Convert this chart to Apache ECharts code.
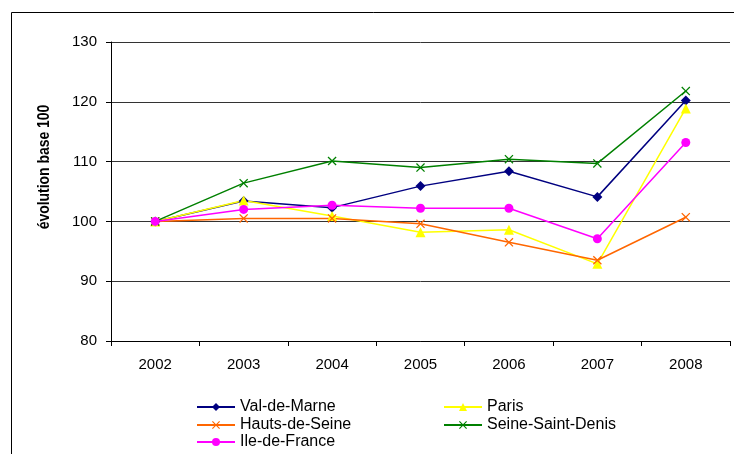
<!DOCTYPE html>
<html>
<head>
<meta charset="utf-8">
<script src="https://cdn.jsdelivr.net/npm/echarts@6/dist/echarts.min.js"></script>
<style>html,body{margin:0;padding:0;background:#fff}#c{width:734px;height:454px}</style>
</head>
<body>
<div id="c"></div>
<script>
var years = ['2002','2003','2004','2005','2006','2007','2008'];
var valDeMarne = [100, 103.4, 102.3, 105.9, 108.4, 104.1, 120.2];
var paris = [100, 103.5, 100.9, 98.2, 98.6, 92.9, 118.9];
var hautsDeSeine = [100, 100.5, 100.5, 99.6, 96.5, 93.5, 100.7];
var seineSaintDenis = [100, 106.4, 110.1, 109.0, 110.4, 109.7, 121.8];
var ileDeFrance = [100, 102.0, 102.7, 102.2, 102.2, 97.1, 113.2];
var yTicks = [80, 90, 100, 110, 120, 130];

var X = 'path://M0,1L1,0L5,4L9,0L10,1L6,5L10,9L9,10L5,6L1,10L0,9L4,5Z';
var font = 'Arial, "Liberation Sans", sans-serif';

function ser(name, data, color, symbol, size) {
  return {
    name: name, type: 'line', data: data, symbol: symbol, symbolSize: size,
    showAllSymbol: true, animation: false,
    lineStyle: {color: color, width: 1.5},
    itemStyle: {color: color, borderColor: color, borderWidth: 0}
  };
}
function leg(name, left, top) {
  return {
    data: [name], left: left, top: top, itemWidth: 38, itemHeight: 10,
    padding: 0, itemGap: 0,
    textStyle: {fontFamily: font, fontSize: 16, lineHeight: 16, color: '#000'}
  };
}

var chart = echarts.init(document.getElementById('c'));
chart.setOption({
  animation: false,
  grid: {left: 111, right: 4, top: 42, bottom: 113},
  graphic: [
    {type: 'rect', shape: {x: 11.5, y: 12.5, width: 740, height: 460}, style: {fill: 'none', stroke: '#000', lineWidth: 1}, silent: true},
    {type: 'text', x: 45, y: 167, rotation: Math.PI / 2, scaleX: 0.87, scaleY: 1, style: {text: 'évolution base 100', font: 'bold 16px ' + font, fill: '#000', align: 'center', verticalAlign: 'middle'}}
  ],
  xAxis: {
    type: 'category', data: years, boundaryGap: true,
    axisLine: {lineStyle: {color: '#000', width: 1}},
    axisTick: {show: true, length: 5, lineStyle: {color: '#000'}, alignWithLabel: false},
    axisLabel: {fontFamily: font, fontSize: 15, color: '#000', margin: 16}
  },
  yAxis: {
    type: 'value', min: yTicks[0], max: yTicks[yTicks.length - 1], interval: 10,
    axisLine: {show: true, lineStyle: {color: '#000', width: 1}},
    axisTick: {show: true, length: 5, lineStyle: {color: '#000'}},
    axisLabel: {fontFamily: font, fontSize: 15, color: '#000', margin: 14},
    splitLine: {show: true, lineStyle: {color: '#333', width: 1}}
  },
  legend: [
    leg('Val-de-Marne', 196, 399),
    leg('Hauts-de-Seine', 196, 417),
    leg('Ile-de-France', 196, 434),
    leg('Paris', 443, 399),
    leg('Seine-Saint-Denis', 443, 417)
  ],
  series: [
    ser('Val-de-Marne', valDeMarne, '#000080', 'diamond', 10),
    ser('Paris', paris, '#FFFF00', 'triangle', 10),
    ser('Hauts-de-Seine', hautsDeSeine, '#FF6600', X, 9),
    ser('Seine-Saint-Denis', seineSaintDenis, '#008000', X, 9),
    ser('Ile-de-France', ileDeFrance, '#FF00FF', 'circle', 9)
  ]
});
</script>
</body>
</html>
